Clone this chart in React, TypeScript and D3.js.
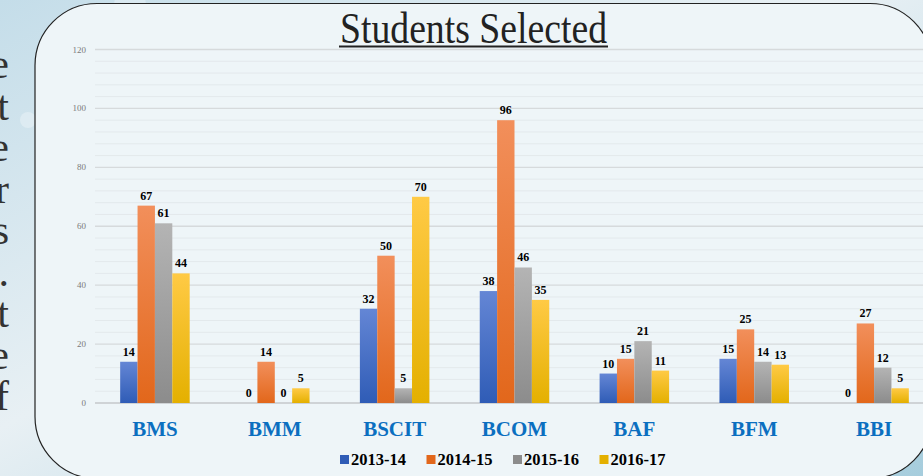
import * as d3 from 'd3';
import { useEffect, useRef } from 'react';

const categories = ['BMS', 'BMM', 'BSCIT', 'BCOM', 'BAF', 'BFM', 'BBI'];
const years = ['2013-14', '2014-15', '2015-16', '2016-17'];
const v2013 = [14, 0, 32, 38, 10, 15, 0];
const v2014 = [67, 14, 50, 96, 15, 25, 27];
const v2015 = [61, 0, 5, 46, 21, 14, 12];
const v2016 = [44, 5, 70, 35, 11, 13, 5];
const yTicks = [0, 20, 40, 60, 80, 100, 120];
const sideLetters = ['e', 't', 'e', 'r', 's', '.', 't', 'e', 'f'];

const colors = [
  ['#6486d5', '#2f5cb6'],
  ['#f28f5b', '#e2671b'],
  ['#b4b4b4', '#8c8c8c'],
  ['#ffca45', '#e4b000'],
];

const SERIF = "'Liberation Serif', 'Times New Roman', 'DejaVu Serif', serif";

const App = () => {
  const svgRef = useRef(null);

  useEffect(() => {
    const svg = d3.select(svgRef.current);
    svg.selectAll('*').remove();
    const W = 923, H = 476;
    const series = [v2013, v2014, v2015, v2016];

    const defs = svg.append('defs');
    const bg = defs.append('linearGradient').attr('id', 'bg')
      .attr('x1', 0).attr('y1', 0).attr('x2', 1).attr('y2', 1);
    bg.append('stop').attr('offset', '0%').attr('stop-color', '#c4dde9');
    bg.append('stop').attr('offset', '45%').attr('stop-color', '#e8f0f4');
    bg.append('stop').attr('offset', '100%').attr('stop-color', '#a6cddd');
    colors.forEach((c, i) => {
      const g = defs.append('linearGradient').attr('id', `bar${i}`)
        .attr('x1', 0).attr('y1', 0).attr('x2', 0).attr('y2', 1);
      g.append('stop').attr('offset', '0%').attr('stop-color', c[0]);
      g.append('stop').attr('offset', '100%').attr('stop-color', c[1]);
    });

    // slide background
    svg.append('rect').attr('width', W).attr('height', H).attr('fill', 'url(#bg)');
    [[75, 22, 14], [28, 120, 8], [130, 5, 16], [45, 165, 8]].forEach(([cx, cy, r]) => {
      svg.append('circle').attr('cx', cx).attr('cy', cy).attr('r', r)
        .attr('fill', '#ffffff').attr('opacity', 0.3);
    });
    svg.append('g').selectAll('text')
      .data(sideLetters)
      .enter()
      .append('text')
      .attr('x', 9)
      .attr('y', (d, i) => 78 + i * 41.5)
      .attr('text-anchor', 'end')
      .style('font-family', SERIF)
      .style('font-size', '42px')
      .style('fill', '#333')
      .text(d => d);

    // panel
    svg.append('rect')
      .attr('x', 35).attr('y', 3.5).attr('width', 897).attr('height', 475)
      .attr('rx', 62).attr('ry', 62)
      .attr('fill', '#eef5f8').attr('stroke', '#222').attr('stroke-width', 1.2);

    const x = d3.scaleBand().domain(categories).range([95, 934]).paddingInner(0.42).paddingOuter(0.21);
    const x1 = d3.scaleBand().domain(years).range([0, x.bandwidth()]);
    const y = d3.scaleLinear().domain([0, 120]).range([403, 49.5]);

    // minor grid
    svg.append('g').selectAll('line')
      .data(d3.range(0, 121, 4).filter(v => v % 20 !== 0))
      .enter()
      .append('line')
      .attr('x1', 95).attr('x2', W)
      .attr('y1', d => y(d)).attr('y2', d => y(d))
      .attr('stroke', '#e3e9ec').attr('stroke-width', 1);
    // major grid
    svg.append('g').selectAll('line')
      .data(yTicks)
      .enter()
      .append('line')
      .attr('x1', 95).attr('x2', W)
      .attr('y1', d => y(d)).attr('y2', d => y(d))
      .attr('stroke', d => d === 0 ? '#cfd3d6' : '#d6dadc')
      .attr('stroke-width', d => d === 0 ? 2 : 1.3);

    svg.append('g').selectAll('text')
      .data(yTicks)
      .enter()
      .append('text')
      .attr('x', 86).attr('y', d => y(d) + 3)
      .attr('text-anchor', 'end')
      .style('font-family', SERIF)
      .style('font-size', '9px')
      .style('fill', '#7a7a7a')
      .text(d => d);

    // bars
    series.forEach((vals, si) => {
      const g = svg.append('g');
      g.selectAll('rect')
        .data(vals)
        .enter()
        .append('rect')
        .attr('x', (d, i) => x(categories[i]) + x1(years[si]))
        .attr('y', d => y(d))
        .attr('width', x1.bandwidth())
        .attr('height', d => y(0) - y(d))
        .attr('fill', `url(#bar${si})`);
      g.selectAll('text')
        .data(vals)
        .enter()
        .append('text')
        .attr('x', (d, i) => x(categories[i]) + x1(years[si]) + x1.bandwidth() / 2)
        .attr('y', d => y(d) - 6)
        .attr('text-anchor', 'middle')
        .style('font-family', SERIF)
        .style('font-weight', 'bold')
        .style('font-size', '12px')
        .style('fill', '#000')
        .text(d => d);
    });

    // category labels
    svg.append('g').selectAll('text')
      .data(categories)
      .enter()
      .append('text')
      .attr('x', d => x(d) + x.bandwidth() / 2)
      .attr('y', 436)
      .attr('text-anchor', 'middle')
      .style('font-family', SERIF)
      .style('font-weight', 'bold')
      .style('font-size', '21px')
      .style('fill', '#0b6fc0')
      .text(d => d);

    // title
    svg.append('text')
      .attr('x', 473.5).attr('y', 42.5)
      .attr('text-anchor', 'middle')
      .attr('textLength', 267)
      .attr('lengthAdjust', 'spacingAndGlyphs')
      .style('font-family', SERIF)
      .style('font-size', '45px')
      .style('fill', '#222')
      .text('Students Selected');
    svg.append('line')
      .attr('x1', 339).attr('x2', 608).attr('y1', 46.5).attr('y2', 46.5)
      .attr('stroke', '#222').attr('stroke-width', 2);

    // legend
    const legend = svg.append('g').selectAll('g')
      .data(years)
      .enter()
      .append('g')
      .attr('transform', (d, i) => `translate(${340 + i * 86.5}, 455)`);
    legend.append('rect')
      .attr('width', 9).attr('height', 9)
      .attr('fill', (d, i) => colors[i][1]);
    legend.append('text')
      .attr('x', 11).attr('y', 10)
      .attr('textLength', 55)
      .attr('lengthAdjust', 'spacingAndGlyphs')
      .style('font-family', SERIF)
      .style('font-weight', 'bold')
      .style('font-size', '16px')
      .style('fill', '#000')
      .text(d => d);
  }, []);

  return (
    <svg ref={svgRef} width={923} height={476}
      style={{ position: 'absolute', left: 0, top: 0, display: 'block' }}></svg>
  );
};

export default App;
